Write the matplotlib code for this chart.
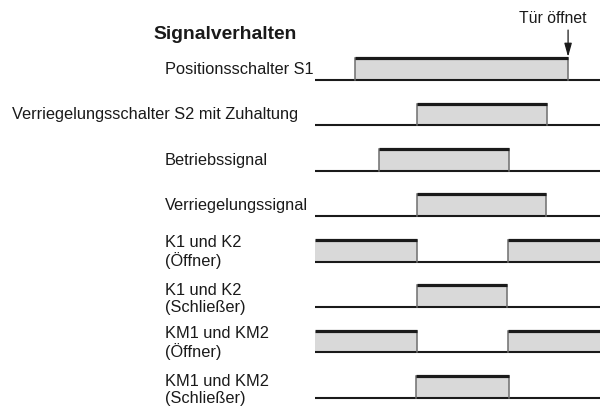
import matplotlib
matplotlib.use('Agg')
from matplotlib import pyplot
from matplotlib.patches import Rectangle

pyplot.rcParams['font.family'] = ['Liberation Sans', 'DejaVu Sans']

# Signal names and their high intervals (time in % of the line length).
labels = [
    'Positionsschalter S1',
    'Verriegelungsschalter S2 mit Zuhaltung',
    'Betriebssignal',
    'Verriegelungssignal',
    'K1 und K2\n(Öffner)',
    'K1 und K2\n(Schließer)',
    'KM1 und KM2\n(Öffner)',
    'KM1 und KM2\n(Schließer)',
]
intervals = [
    [(14.0, 88.8)],
    [(35.8, 81.4)],
    [(22.5, 68.1)],
    [(35.8, 81.1)],
    [(0.0, 35.8), (67.7, 100.0)],
    [(35.8, 67.4)],
    [(0.0, 35.8), (67.7, 100.0)],
    [(35.4, 68.1)],
]
door_open = 88.8
title = 'Signalverhalten'
door_label = 'Tür öffnet'

FILL = '#d9d9d9'
SIDE = '#6e6e6e'
HIGH = 0.48  # pulse height in row units


def PlotSignal(ax, row, spans):
  ax.plot([0, 100], [row, row], color='#1a1a1a', lw=1.5, solid_capstyle='butt')
  for a, b in spans:
    ax.add_patch(Rectangle((a, row - HIGH), b - a, HIGH, facecolor=FILL,
                           edgecolor='none'))
    for x in (a, b):
      if 0 < x < 100:
        ax.plot([x, x], [row, row - HIGH], color=SIDE, lw=1.1)
    ax.plot([a, b], [row - HIGH, row - HIGH], color='#1a1a1a', lw=2.3,
            solid_capstyle='butt')


def Run():
  fig = pyplot.figure(figsize=(6, 4.07), dpi=100)
  # line spans pixel 315..600, first baseline at y=80px, rows 45.4px apart
  ax = fig.add_axes([315 / 600, 0, 285 / 600, 1])
  ax.set_xlim(0, 100)
  ax.set_ylim((407 - 80) / 45.4, -80 / 45.4)
  ax.axis('off')

  for row, (label, spans) in enumerate(zip(labels, intervals)):
    PlotSignal(ax, row, spans)
    x = -106.3 if row == 1 else -52.6
    y = row - 0.07 if '\n' not in label else row + 0.17
    ax.text(x, y, label, ha='left', va='bottom', fontsize=11.8,
            linespacing=1.15, color='#1a1a1a')

  ax.text(-56.8, -1.0, title, ha='left', va='center', fontsize=13.9,
          fontweight='bold', color='#1a1a1a')
  ax.text(95.1, -1.36, door_label, ha='right', va='center', fontsize=11.3,
          color='#1a1a1a')
  ax.annotate('', xy=(door_open, -HIGH - 0.03), xytext=(door_open, -1.1),
              arrowprops=dict(arrowstyle='-|>,head_length=0.9,head_width=0.25',
                              color='#1a1a1a', lw=0.9, mutation_scale=9,
                              shrinkA=0, shrinkB=0))

  fig.savefig('out.png', dpi=100)


if __name__ == '__main__':
  Run()
